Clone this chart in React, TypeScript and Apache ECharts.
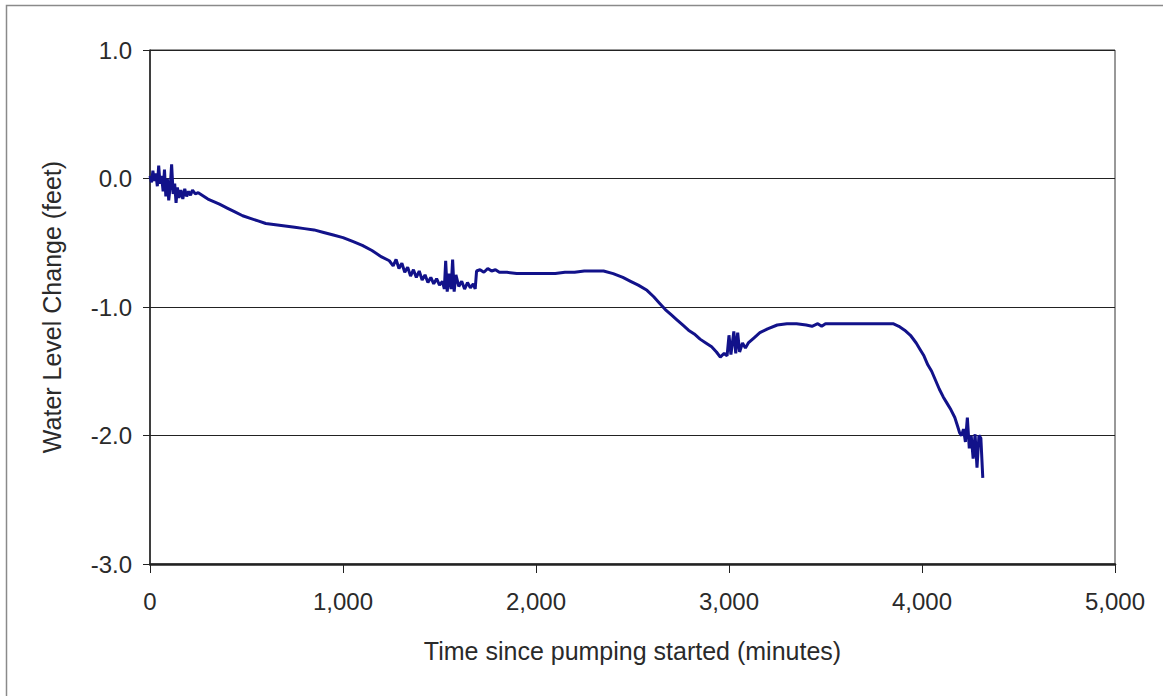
import React, { useEffect, useRef } from "react";
import * as echarts from "echarts";

const timeMinutes: number[] = [
  0, 8, 15, 22, 30, 38, 45, 52, 60, 68, 75, 82, 90, 97, 105, 112, 120, 128, 135, 142, 150, 160, 170, 180, 190, 200, 210, 220, 235, 250, 270,
  300, 330, 360, 400, 440, 480, 520, 560, 600, 650, 700, 750, 800, 850, 900, 950, 1000, 1050, 1100, 1150, 1200, 1240,
  1260, 1275, 1290, 1305, 1320, 1335, 1350, 1365, 1380, 1395, 1410, 1425, 1440, 1455, 1470, 1485, 1500, 1515, 1525, 1532, 1540, 1550, 1560,
  1568, 1576, 1585, 1600, 1615, 1630, 1645, 1660, 1675, 1685, 1692, 1710, 1730, 1750, 1770, 1790, 1810, 1850, 1900, 1950, 2000, 2050,
  2100, 2150, 2200, 2250, 2300, 2350, 2400, 2450, 2490, 2530, 2575, 2610, 2640, 2670, 2700, 2730, 2760, 2790, 2820, 2850, 2880, 2910,
  2935, 2955, 2975, 2990, 3000, 3010, 3025, 3035, 3045, 3055, 3070, 3085, 3100, 3130, 3160, 3200, 3250, 3300, 3350, 3400, 3430, 3460,
  3480, 3500, 3550, 3600, 3650, 3700, 3750, 3800, 3850, 3880, 3910, 3940, 3970, 3990, 4010, 4030, 4050, 4070, 4090, 4110, 4130, 4150,
  4170, 4185, 4195, 4205, 4215, 4225, 4235, 4245, 4255, 4265, 4275, 4285, 4295, 4305, 4315,
];

const waterLevelChange: number[] = [
  0.02, -0.03, 0.06, -0.02, 0.04, -0.06, 0.1, -0.04, 0.02, -0.1, 0.07, -0.14, 0.0, -0.17, -0.06, 0.11, -0.12, -0.04, -0.19, -0.07, -0.15, -0.09, -0.16, -0.08, -0.14, -0.1, -0.13, -0.09, -0.12, -0.11, -0.13,
  -0.16, -0.18, -0.2, -0.23, -0.26, -0.29, -0.31, -0.33, -0.35, -0.36, -0.37, -0.38, -0.39, -0.4, -0.42, -0.44, -0.46, -0.49, -0.52, -0.56, -0.61, -0.64,
  -0.68, -0.63, -0.7, -0.66, -0.73, -0.69, -0.76, -0.71, -0.77, -0.72, -0.79, -0.75, -0.81, -0.77, -0.82, -0.78, -0.83, -0.8, -0.86, -0.64, -0.88, -0.74, -0.86,
  -0.63, -0.88, -0.75, -0.84, -0.8, -0.86, -0.81, -0.85, -0.82, -0.86, -0.72, -0.71, -0.73, -0.7, -0.72, -0.71, -0.73, -0.73, -0.74, -0.74, -0.74, -0.74,
  -0.74, -0.73, -0.73, -0.72, -0.72, -0.72, -0.74, -0.77, -0.8, -0.83, -0.87, -0.92, -0.97, -1.02, -1.06, -1.1, -1.14, -1.18, -1.21, -1.25, -1.28, -1.31,
  -1.35, -1.39, -1.36, -1.38, -1.22, -1.37, -1.19, -1.36, -1.2, -1.35, -1.28, -1.32, -1.28, -1.24, -1.2, -1.17, -1.14, -1.13, -1.13, -1.14, -1.15, -1.13,
  -1.15, -1.13, -1.13, -1.13, -1.13, -1.13, -1.13, -1.13, -1.13, -1.15, -1.18, -1.22, -1.28, -1.33, -1.38, -1.45, -1.5, -1.57, -1.64, -1.7, -1.75, -1.8,
  -1.86, -1.93, -1.98, -2.0, -1.95, -2.05, -1.86, -2.1, -2.0, -2.18, -1.99, -2.25, -2.0, -2.02, -2.33,
];

const xTitle = "Time since pumping started (minutes)";
const yTitle = "Water Level Change (feet)";

export default function App() {
  const ref = useRef<HTMLDivElement>(null);
  useEffect(() => {
    document.body.style.margin = "0";
    if (!ref.current) return;
    const chart = echarts.init(ref.current, null, { renderer: "svg" });
    const textColor = "#2a2a2a";
    const font = "'Liberation Sans', Arial, sans-serif";
    chart.setOption({
      animation: false,
      backgroundColor: "#ffffff",
      graphic: [
        {
          type: "rect",
          shape: { x: 6.5, y: 5.5, width: 1160, height: 700 },
          style: { fill: "none", stroke: "#8a8a8a", lineWidth: 1.5 },
          silent: true,
        },
      ],
      grid: {
        left: 150,
        right: 48,
        top: 50,
        bottom: 132,
        show: true,
        borderColor: "#333",
        borderWidth: 1,
        backgroundColor: "transparent",
      },
      xAxis: {
        type: "value",
        min: 0,
        max: 5000,
        interval: 1000,
        name: xTitle,
        nameLocation: "middle",
        nameGap: 74,
        nameTextStyle: { color: textColor, fontSize: 25, fontFamily: font },
        axisLine: { show: true, onZero: false, lineStyle: { color: "#222", width: 2.5 } },
        axisTick: { show: true, length: 9, lineStyle: { color: "#222", width: 1 } },
        axisLabel: {
          color: textColor,
          fontSize: 24,
          fontFamily: font,
          margin: 25,
          formatter: (v: number) => v.toLocaleString("en-US"),
        },
        splitLine: { show: false },
      },
      yAxis: {
        type: "value",
        min: -3,
        max: 1,
        interval: 1,
        name: yTitle,
        nameLocation: "middle",
        nameGap: 86,
        nameTextStyle: { color: textColor, fontSize: 25, fontFamily: font },
        axisLine: { show: true, onZero: false, lineStyle: { color: "#222", width: 1.5 } },
        axisTick: { show: true, length: 7, lineStyle: { color: "#222", width: 1 } },
        axisLabel: {
          color: textColor,
          fontSize: 24,
          fontFamily: font,
          margin: 18,
          formatter: (v: number) => v.toFixed(1),
        },
        splitLine: { show: true, lineStyle: { color: "#222", width: 1 } },
      },
      series: [
        {
          type: "line",
          data: timeMinutes.map((t, i) => [t, waterLevelChange[i]]),
          showSymbol: false,
          symbol: "none",
          lineStyle: { color: "#12128a", width: 3 },
        },
      ],
    });
    return () => chart.dispose();
  }, []);
  return <div ref={ref} style={{ width: 1163, height: 696 }} />;
}
